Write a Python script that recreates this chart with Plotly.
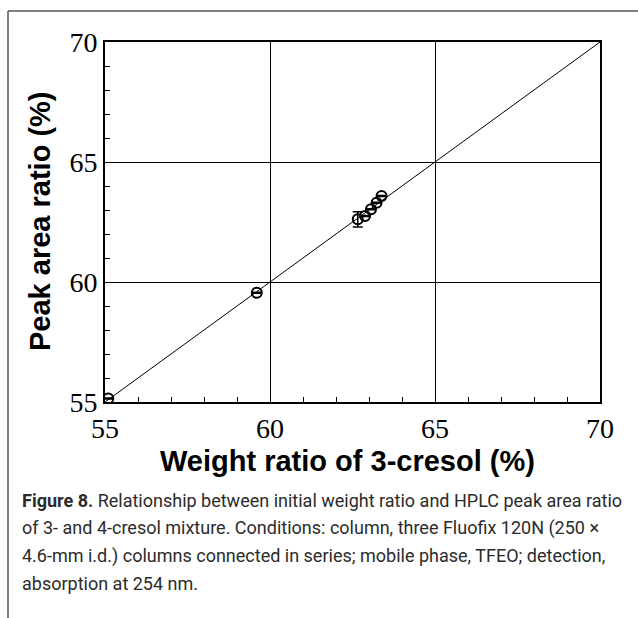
import plotly.graph_objects as go

# Data
weight_ratio = [55.1, 59.6, 62.66, 62.88, 63.06, 63.23, 63.38]
peak_area_ratio = [55.15, 59.55, 62.61, 62.75, 63.03, 63.30, 63.58]
peak_error = [0.02, 0.02, 0.32, 0.02, 0.02, 0.02, 0.02]
identity_line = [55, 70]
tick_vals = [55, 60, 65, 70]
tick_text = ["55", "60", "65", "70"]

W, H = 638, 618
L, R, T, B = 105, 600, 42, 402  # plot area in px


def px(x):
    return (x - L) / (R - L)


def py(y):
    return (B - y) / (B - T)


fig = go.Figure()
fig.add_trace(go.Scatter(x=identity_line, y=identity_line, mode="lines",
                         line=dict(color="black", width=1), hoverinfo="skip",
                         showlegend=False))
fig.add_trace(go.Scatter(
    x=weight_ratio, y=peak_area_ratio, mode="markers",
    marker=dict(symbol="circle-open", size=10, color="black", line=dict(width=2)),
    error_y=dict(type="data", array=peak_error, visible=True, color="black",
                 thickness=1.5, width=5),
    showlegend=False))

axis_common = dict(
    range=[55, 70], tickvals=tick_vals, ticktext=tick_text,
    showgrid=True, gridcolor="black", gridwidth=1,
    showline=True, linecolor="black", linewidth=2, mirror=True,
    ticks="inside", ticklen=5, tickcolor="black", tickwidth=1,
    minor=dict(dtick=1, tick0=55, ticks="inside", ticklen=5, tickcolor="black",
               tickwidth=1, showgrid=False),
    tickfont=dict(family="Liberation Serif, Times New Roman, serif", size=28,
                  color="black"),
    zeroline=False, fixedrange=True,
)

fig.update_xaxes(**axis_common, ticklabelstandoff=0)
fig.update_yaxes(**axis_common)

title_font = dict(family="Liberation Sans, Arial, sans-serif", size=29,
                  color="black", weight="bold")
annotations = [
    dict(text="Weight ratio of 3-cresol (%)", x=px(347), y=py(461),
         xref="paper", yref="paper", showarrow=False, xanchor="center",
         yanchor="middle", font=title_font),
    dict(text="Peak area ratio (%)", x=px(40), y=py(221), textangle=-90,
         xref="paper", yref="paper", showarrow=False, xanchor="center",
         yanchor="middle", font=title_font),
]

caption_lines = [
    "<b>Figure 8.</b> Relationship between initial weight ratio and HPLC peak area ratio",
    "of 3- and 4-cresol mixture. Conditions: column, three Fluofix 120N (250 ×",
    "4.6-mm i.d.) columns connected in series; mobile phase, TFEO; detection,",
    "absorption at 254 nm.",
]
caption_y = [500, 528, 556, 583]
for line, yy in zip(caption_lines, caption_y):
    annotations.append(dict(
        text=line, x=px(20), y=py(yy), xref="paper", yref="paper",
        showarrow=False, xanchor="left", yanchor="middle",
        font=dict(family="Roboto, sans-serif", size=18, color="#2b2b2b")))

shapes = [
    dict(type="line", xref="paper", yref="paper", x0=px(8), x1=px(638),
         y0=py(11), y1=py(11), line=dict(color="#555555", width=1.5)),
    dict(type="line", xref="paper", yref="paper", x0=px(8), x1=px(8),
         y0=py(11), y1=py(618), line=dict(color="#555555", width=1.5)),
]

fig.update_layout(
    width=W, height=H,
    margin=dict(l=L, r=W - R, t=T, b=H - B, pad=0),
    paper_bgcolor="white", plot_bgcolor="white",
    annotations=annotations, shapes=shapes,
)

fig.write_html("out.html")
